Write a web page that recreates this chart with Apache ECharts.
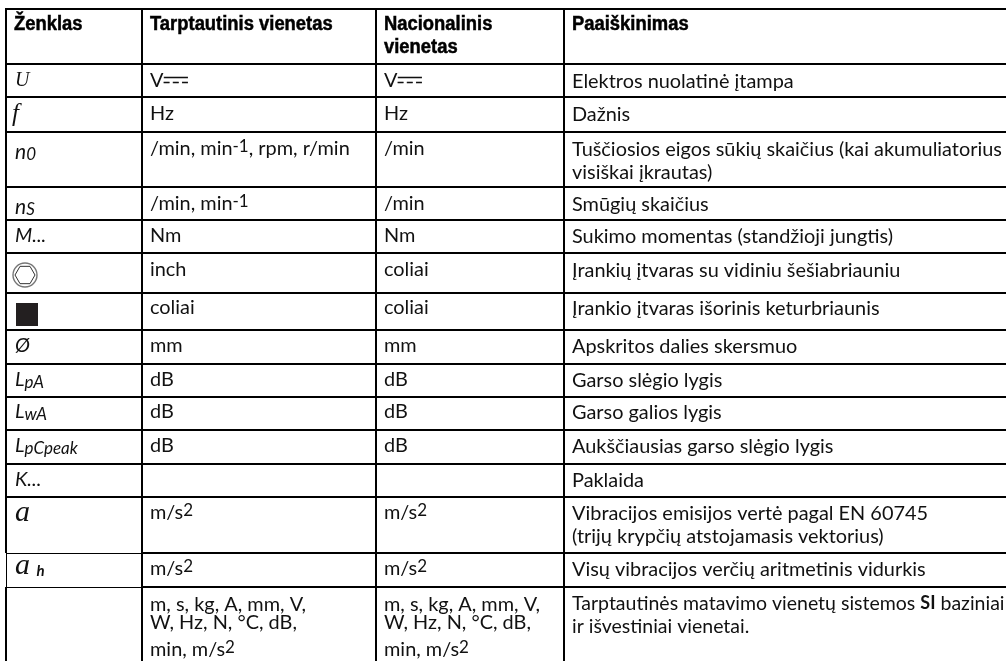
<!DOCTYPE html>
<html><head><meta charset="utf-8">
<style>html,body{margin:0;padding:0;background:#fff}#c{width:1006px;height:661px}</style>
<script src="https://cdn.jsdelivr.net/npm/echarts@6/dist/echarts.min.js"></script>
</head><body><div id="c"></div>
<script>
const headers = ['Ženklas','Tarptautinis vienetas','Nacionalinis\nvienetas','Paaiškinimas'];
const symbols = ['{u|U}','{f|f}','{i|n}{sub2|0}','{i|n}{sub2|S}','{m|M...}','','','{o|Ø}','{m|L}{sub|pA}','{m|L}{sub|wA}','{m|L}{sub|pCpeak}','{m|K...}','{a|a}','{a2|a}{h|  h}',''];
const intl = ['V{dc|⎓}','Hz','/min, min{sup|-1}, rpm, r/min','/min, min{sup|-1}','Nm','inch','coliai','mm','dB','dB','dB','','m/s{sup|2}','m/s{sup|2}','m, s, kg, A, mm, V,\nW, Hz, N, °C, dB,\nmin, m/s{sup|2}'];
const national = ['V{dc|⎓}','Hz','/min','/min','Nm','coliai','coliai','mm','dB','dB','dB','','m/s{sup|2}','m/s{sup|2}','m, s, kg, A, mm, V,\nW, Hz, N, °C, dB,\nmin, m/s{sup|2}'];
const explanations = ['Elektros nuolatinė įtampa','Dažnis','Tuščiosios eigos sūkių skaičius (kai akumuliatorius\nvisiškai įkrautas)','Smūgių skaičius','Sukimo momentas (standžioji jungtis)','Įrankių įtvaras su vidiniu šešiabriauniu','Įrankio įtvaras išorinis keturbriaunis','Apskritos dalies skersmuo','Garso slėgio lygis','Garso galios lygis','Aukščiausias garso slėgio lygis','Paklaida','Vibracijos emisijos vertė pagal EN 60745\n(trijų krypčių atstojamasis vektorius)','Visų vibracijos verčių aritmetinis vidurkis','Tarptautinės matavimo vienetų sistemos {b|SI} baziniai\nir išvestiniai vienetai.'];
const rowEdges = [9,64,97,132,187,220,253,293,330,364,397,430,464,497,553,587,661];
const colEdges = [6,142,376,564,1006];
const textOffsets = [6,6,6,6,5,6,4,5,5,4,5,5,5,5,5];
const symbolOffsets = [6,6,9,9,5,6,4,5,5,4,5,5,5,0,5];

const bodyFont = 'Lato';
const rich = {
  u:{fontFamily:'Liberation Serif',fontStyle:'italic',fontSize:20,color:'#555'},
  f:{fontFamily:'Liberation Serif',fontStyle:'italic',fontSize:25,color:'#666'},
  i:{fontFamily:bodyFont,fontStyle:'italic',fontSize:21,color:'#111'},
  m:{fontFamily:bodyFont,fontStyle:'italic',fontSize:20,color:'#111'},
  a:{fontFamily:'Liberation Serif',fontStyle:'italic',fontSize:30,color:'#333'},
  a2:{fontFamily:'Liberation Serif',fontStyle:'italic',fontSize:30,color:'#333',lineHeight:26},
  o:{fontFamily:bodyFont,fontStyle:'italic',fontSize:20,color:'#111'},
  sub:{fontFamily:bodyFont,fontStyle:'italic',fontSize:17,color:'#111',verticalAlign:'bottom',lineHeight:2},
  sub2:{fontFamily:bodyFont,fontStyle:'italic',fontSize:17,color:'#111',verticalAlign:'bottom',lineHeight:8},
  h:{fontFamily:bodyFont,fontStyle:'italic',fontWeight:'bold',fontSize:15,color:'#111',verticalAlign:'bottom',lineHeight:1},
  sup:{fontFamily:bodyFont,fontSize:17,color:'#111',verticalAlign:'top',lineHeight:6},
  dc:{fontFamily:'DejaVu Sans',fontSize:32,color:'#000',lineHeight:22,stroke:'#000',lineWidth:0.7},
  b:{fontFamily:bodyFont,fontWeight:'bold',fontSize:18,color:'#000'}
};
const segments = [];
rowEdges.slice(0,-1).forEach((y,i)=>{
  const thin = (i===14||i===15);
  if(thin){
    segments.push([colEdges[0],y+0.5,colEdges[1],y+0.5,1]);
    segments.push([colEdges[1],y,colEdges[4],y,2]);
  } else segments.push([colEdges[0],y,colEdges[4],y,2]);
});
colEdges.slice(0,-1).forEach((x,i)=>{
  if(i===0){
    segments.push([x,8,x,rowEdges[14],2]);
    segments.push([x+0.5,rowEdges[14],x+0.5,rowEdges[15],1]);
    segments.push([x,rowEdges[15],x,661,2]);
  } else segments.push([x,8,x,661,2]);
});

const cells = [];
headers.forEach((t,c)=>cells.push({x:colEdges[c]+8,y:rowEdges[0]+4,t,head:true,lh:23}));
[symbols,intl,national,explanations].forEach((col,c)=>col.forEach((t,r)=>{
  if(!t) return;
  const x = colEdges[c]+(c===0?(r===1?6:9):8), top = rowEdges[r+1];
  if(r===14&&(c===1||c===2)){
    const lines=t.split('\n');
    cells.push({x,y:top+9,t:lines.slice(0,2).join('\n'),lh:18});
    cells.push({x,y:top+52,t:lines[2],lh:22});
  } else cells.push({x,y:top+(c===0?symbolOffsets[r]:textOffsets[r]),t,lh:c===3?23:22,size:(c===3&&r===14)?19.5:19.9});
}));
const cellData = cells.map(c=>[c.x,c.y]);

const chart = echarts.init(document.getElementById('c'),null,{renderer:'canvas'});
chart.setOption({
  animation:false,
  grid:{left:0,right:0,top:0,bottom:0},
  xAxis:{type:'value',min:0,max:1006,show:false},
  yAxis:{type:'value',min:0,max:661,inverse:true,show:false},
  series:[
    {type:'custom',coordinateSystem:'cartesian2d',silent:true,clip:false,data:segments,
     renderItem(p,api){
       const a=api.coord([api.value(0),api.value(1)]),b=api.coord([api.value(2),api.value(3)]);
       return {type:'line',shape:{x1:a[0],y1:a[1],x2:b[0],y2:b[1]},style:{stroke:'#000',lineWidth:api.value(4)}};
     }},
    {type:'custom',coordinateSystem:'cartesian2d',silent:true,clip:false,data:cellData,
     renderItem(p,api){
       const a=api.coord([api.value(0),api.value(1)]),c=cells[p.dataIndex];
       if(c.head) return {type:'text',x:a[0],y:a[1],scaleX:0.92,style:{
         text:c.t,align:'left',verticalAlign:'top',fill:'#000',
         font:'bold 20px "Liberation Sans"',lineHeight:c.lh,stroke:'#000',lineWidth:0.5
       }};
       return {type:'text',x:a[0],y:a[1],style:{
         text:c.t,rich,align:'left',verticalAlign:'top',fill:'#111',
         font:(c.size||19.9)+'px Lato',
         lineHeight:c.lh
       }};
     }},
    {type:'custom',coordinateSystem:'cartesian2d',silent:true,clip:false,data:[[6,5],[6,6]],
     renderItem(p,api){
       const row=api.value(1), top=api.coord([14,rowEdges[row+1]]);
       if(p.dataIndex===0){
         const cx=top[0]+11,cy=top[1]+22,r=10;
         const pts=[];
         [0,60,120,180,240,300].forEach(d=>pts.push([cx+r*Math.cos(d*Math.PI/180),cy+r*Math.sin(d*Math.PI/180)]));
         return {type:'group',children:[
           {type:'circle',shape:{cx,cy,r:12},style:{fill:'#fff',stroke:'#777',lineWidth:1.4}},
           {type:'polygon',shape:{points:pts},style:{fill:'#fff',stroke:'#333',lineWidth:1}}
         ]};
       }
       return {type:'rect',shape:{x:top[0]+2,y:top[1]+10,width:22,height:23},style:{fill:'#231f20'}};
     }}
  ]
});
</script></body></html>
